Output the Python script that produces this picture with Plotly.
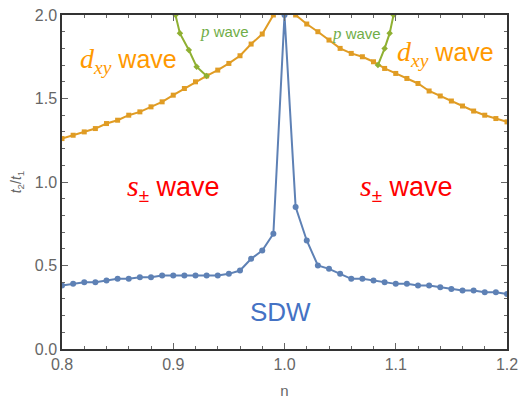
import plotly.graph_objects as go

# ---------------- data ----------------
n_all = [0.80, 0.81, 0.82, 0.83, 0.84, 0.85, 0.86, 0.87, 0.88, 0.89,
         0.90, 0.91, 0.92, 0.93, 0.94, 0.95, 0.96, 0.97, 0.98, 0.99,
         1.00, 1.01, 1.02, 1.03, 1.04, 1.05, 1.06, 1.07, 1.08, 1.09,
         1.10, 1.11, 1.12, 1.13, 1.14, 1.15, 1.16, 1.17, 1.18, 1.19, 1.20]
sdw = [0.38, 0.39, 0.40, 0.40, 0.41, 0.42, 0.42, 0.43, 0.43, 0.44,
       0.44, 0.44, 0.44, 0.44, 0.44, 0.45, 0.47, 0.54, 0.59, 0.69,
       2.00, 0.85, 0.65, 0.50, 0.48, 0.45, 0.42, 0.42, 0.41, 0.40,
       0.39, 0.39, 0.38, 0.38, 0.37, 0.36, 0.35, 0.35, 0.34, 0.34, 0.33]

n_left = [0.80, 0.81, 0.82, 0.83, 0.84, 0.85, 0.86, 0.87, 0.88, 0.89,
          0.90, 0.91, 0.92, 0.93, 0.94, 0.95, 0.96, 0.97, 0.98, 0.99]
dxy_left = [1.26, 1.28, 1.30, 1.32, 1.35, 1.37, 1.40, 1.42, 1.45, 1.48,
            1.52, 1.56, 1.60, 1.635, 1.67, 1.71, 1.756, 1.826, 1.886, 2.00]
n_right = [1.01, 1.02, 1.03, 1.04, 1.05, 1.06, 1.07, 1.08, 1.09, 1.10,
           1.11, 1.12, 1.13, 1.14, 1.15, 1.16, 1.17, 1.18, 1.19, 1.20]
dxy_right = [2.00, 1.946, 1.90, 1.85, 1.80, 1.77, 1.75, 1.72, 1.68, 1.65,
             1.62, 1.59, 1.545, 1.515, 1.485, 1.455, 1.425, 1.40, 1.38, 1.36]

p_left_n = [0.902, 0.906, 0.914, 0.921, 0.930]
p_left_t = [2.00, 1.89, 1.79, 1.69, 1.635]
p_right_n = [1.084, 1.090, 1.0945, 1.098]
p_right_t = [1.70, 1.80, 1.89, 2.00]

x_ticks = [0.8, 0.9, 1.0, 1.1, 1.2]
y_ticks = [0.0, 0.5, 1.0, 1.5, 2.0]

# ---------------- styles ----------------
BLUE = "#5E81B5"
ORANGE = "#E09C24"
GREEN = "#8FB032"
AX = "#666666"

fig = go.Figure()

fig.add_trace(go.Scatter(x=n_all, y=sdw, mode="lines+markers",
                         line=dict(color=BLUE, width=2),
                         marker=dict(color=BLUE, size=6, symbol="circle")))
for xs, ys in [(n_left, dxy_left), (n_right, dxy_right)]:
    fig.add_trace(go.Scatter(x=xs, y=ys, mode="lines+markers",
                             line=dict(color=ORANGE, width=2),
                             marker=dict(color=ORANGE, size=5, symbol="square")))
for xs, ys in [(p_left_n, p_left_t), (p_right_n, p_right_t)]:
    fig.add_trace(go.Scatter(x=xs, y=ys, mode="lines+markers",
                             line=dict(color=GREEN, width=2),
                             marker=dict(color=GREEN, size=5, symbol="diamond")))

serif = "Liberation Serif"
dxy_txt = (f'<span style="font-family:{serif};font-size:28px"><i>d</i><sub><i>xy</i></sub></span> wave')
p_txt = f'<span style="font-family:{serif};font-size:17px"><i>p</i></span> wave'
s_txt = f'<span style="font-family:{serif};font-size:30px"><i>s</i></span><sub>±</sub> wave'

annos = [
    (0.860, 1.73, dxy_txt, "#FF9900", 25),
    (1.145, 1.77, dxy_txt, "#FF9900", 25),
    (0.946, 1.90, p_txt, "#70AD47", 15),
    (1.065, 1.89, p_txt, "#70AD47", 15),
    (0.9000, 0.97, s_txt, "#FF0000", 27),
    (1.1095, 0.97, s_txt, "#FF0000", 27),
    (0.9963, 0.22, "SDW", "#4472C4", 26),
]
for x, y, t, c, s in annos:
    fig.add_annotation(x=x, y=y, text=t, showarrow=False,
                       font=dict(family="Arial, Liberation Sans", size=s, color=c),
                       xanchor="center", yanchor="middle")

axis_common = dict(showline=True, linecolor="#333333", linewidth=1.5, mirror="ticks",
                   ticks="inside", tickcolor=AX, ticklen=6, showgrid=False,
                   zeroline=False, automargin=False, ticklabeloverflow="allow",
                   tickfont=dict(family="Arial, Liberation Sans", size=16, color=AX))

fig.update_xaxes(range=[0.8, 1.2], tickvals=x_ticks,
                 ticktext=[f"{v:.1f}" for v in x_ticks],
                 minor=dict(dtick=0.02, ticks="inside", ticklen=3, tickcolor=AX, showgrid=False),
                 title=dict(text="n", font=dict(family="Arial, Liberation Sans", size=15, color=AX),
                            standoff=14),
                 **axis_common)
fig.update_yaxes(range=[0, 2.0], tickvals=y_ticks,
                 ticktext=[f"{v:.1f}" for v in y_ticks],
                 minor=dict(dtick=0.1, ticks="inside", ticklen=3, tickcolor=AX, showgrid=False),
                 title=dict(text="<i>t</i><sub>2</sub>/<i>t</i><sub>1</sub>",
                            font=dict(family="Arial, Liberation Sans", size=14, color=AX),
                            standoff=10),
                 **axis_common)

fig.update_layout(width=519, height=403,
                  margin=dict(l=62, r=12, t=15, b=54),
                  plot_bgcolor="white", paper_bgcolor="white",
                  showlegend=False)

# remove the default page margin so the figure fills the window exactly
fig.write_html("out.html",
               config={"displayModeBar": False},
               post_script="document.body.style.margin='0';document.body.style.overflow='hidden';")
